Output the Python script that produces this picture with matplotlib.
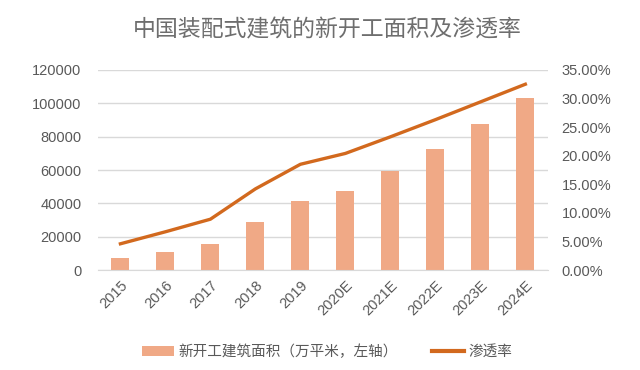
import numpy as np
import matplotlib
matplotlib.use("Agg")
import matplotlib.pyplot as plt
from matplotlib.ticker import FuncFormatter

plt.rcParams['font.family'] = ['Liberation Sans', 'Noto Sans CJK SC']

# 数据
years = ['2015', '2016', '2017', '2018', '2019', '2020E', '2021E', '2022E', '2023E', '2024E']
area = [7000, 11000, 15800, 28600, 41400, 47600, 59200, 72600, 87600, 103200]
rate = [4.6, 6.7, 8.9, 14.2, 18.5, 20.4, 23.3, 26.3, 29.4, 32.5]

bar_color = '#F0A986'
line_color = '#D2691E'
text_color = '#595959'
grid_color = '#D9D9D9'

fig = plt.figure(figsize=(6.4, 3.7), dpi=100)
ax = fig.add_axes([0.153, 0.27, 0.703, 0.541])
x = np.arange(len(years))

b = ax.bar(x, area, width=0.4, color=bar_color, zorder=2)
ax.set_ylim(0, 120000)
ax.set_yticks(np.arange(0, 120001, 20000))
ax.set_xlim(-0.5, len(years) - 0.5)
ax.set_xticks(x)
ax.set_xticklabels(years, rotation=45, ha='right', rotation_mode='anchor')
ax.grid(axis='y', color=grid_color, linewidth=1, zorder=0)
for s in ['top', 'right', 'left']:
    ax.spines[s].set_visible(False)
ax.spines['bottom'].set_color(grid_color)
ax.tick_params(axis='both', length=0, colors=text_color, labelsize=10.5)
ax.tick_params(axis='y', pad=12)
ax.tick_params(axis='x', pad=6)

ax2 = ax.twinx()
l, = ax2.plot(x, rate, color=line_color, linewidth=2.4, zorder=3)
ax2.set_ylim(0, 35)
ax2.set_yticks(np.arange(0, 35.1, 5))
ax2.yaxis.set_major_formatter(FuncFormatter(lambda v, p: '%.2f%%' % v))
for s in ['top', 'right', 'left', 'bottom']:
    ax2.spines[s].set_visible(False)
ax2.tick_params(axis='y', length=0, colors=text_color, labelsize=10.5, pad=10)

# 标题
fig.text(0.511, 0.92, '中国装配式建筑的新开工面积及渗透率', ha='center', va='center',
         fontsize=16.5, color='#6e6e6e', fontweight='light')

leg = fig.legend([b, l], ['新开工建筑面积（万平米，左轴）', '渗透率'], loc='center',
                 bbox_to_anchor=(0.511, 0.049), ncol=2, frameon=False, fontsize=10.5,
                 labelcolor=text_color, handlelength=2.2, columnspacing=2.3, handletextpad=0.3)
leg.get_lines()[0].set_linewidth(3)

fig.savefig('out.png', dpi=100)
